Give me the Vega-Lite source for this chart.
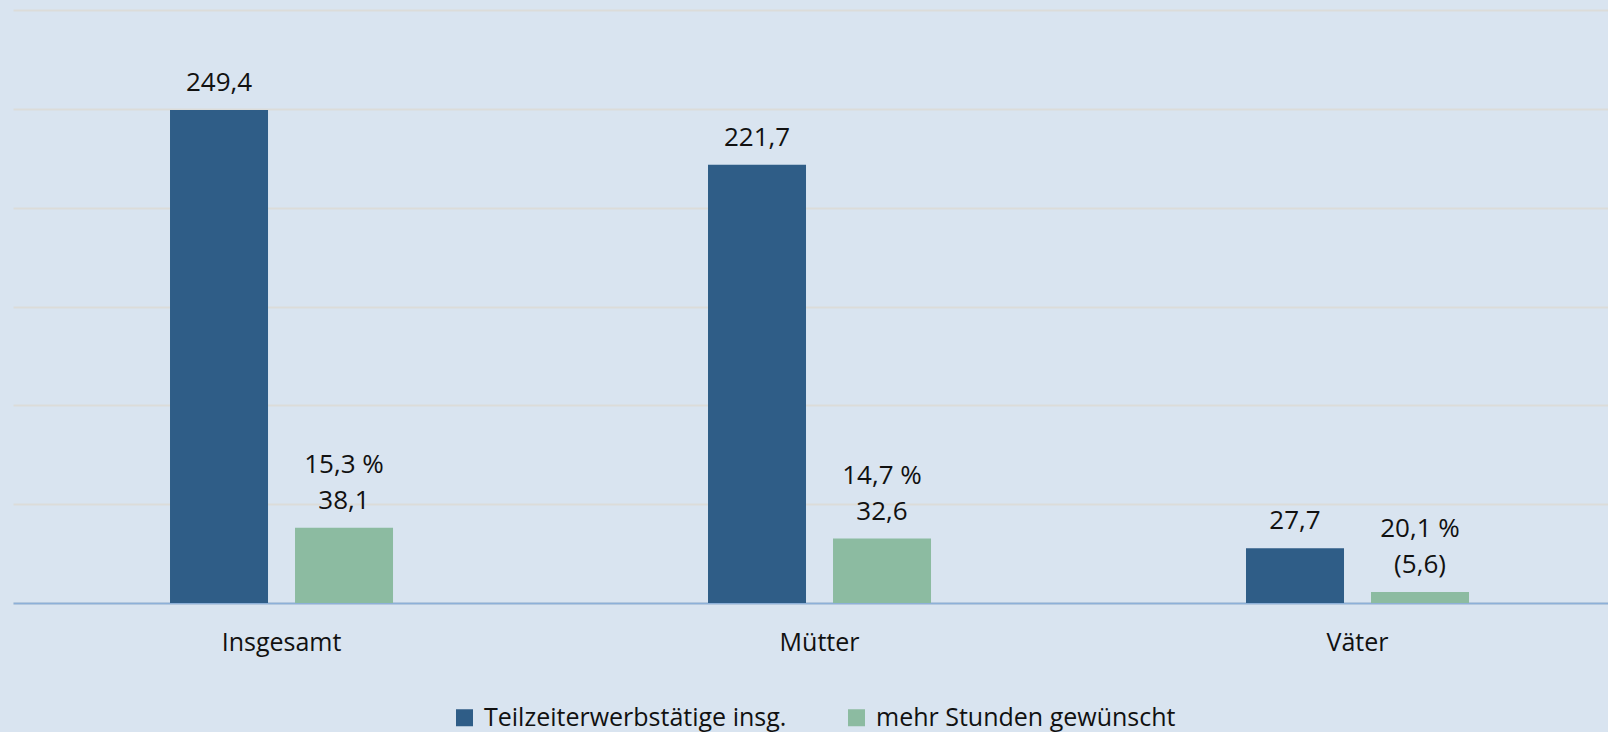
{
  "$schema": "https://vega.github.io/schema/vega-lite/v6.json",
  "width": 1595,
  "height": 593,
  "autosize": {"type": "none"},
  "padding": {"left": 13, "top": 10, "right": 0, "bottom": 129},
  "background": "#D9E4F0",
  "config": {
    "view": {"stroke": null},
    "font": "Open Sans"
  },
  "data": {
    "values": [
      {"Gruppe": "Insgesamt", "Serie": "Teilzeiterwerbstätige insg.", "Wert": 249.4, "Label": "249,4", "Anteil": null},
      {"Gruppe": "Insgesamt", "Serie": "mehr Stunden gewünscht", "Wert": 38.1, "Label": "38,1", "Anteil": "15,3 %"},
      {"Gruppe": "Mütter", "Serie": "Teilzeiterwerbstätige insg.", "Wert": 221.7, "Label": "221,7", "Anteil": null},
      {"Gruppe": "Mütter", "Serie": "mehr Stunden gewünscht", "Wert": 32.6, "Label": "32,6", "Anteil": "14,7 %"},
      {"Gruppe": "Väter", "Serie": "Teilzeiterwerbstätige insg.", "Wert": 27.7, "Label": "27,7", "Anteil": null},
      {"Gruppe": "Väter", "Serie": "mehr Stunden gewünscht", "Wert": 5.6, "Label": "(5,6)", "Anteil": "20,1 %"}
    ]
  },
  "encoding": {
    "x": {
      "field": "Gruppe",
      "type": "nominal",
      "sort": ["Insgesamt", "Mütter", "Väter"],
      "scale": {"paddingInner": 0.5353, "paddingOuter": 0.25, "align": 0.5335},
      "axis": {
        "title": null,
        "labelAngle": 0,
        "ticks": false,
        "domain": true,
        "domainColor": "#8DB0D8",
        "domainWidth": 2,
        "labelFont": "Open Sans",
        "labelFontSize": 25,
        "labelColor": "#111111",
        "labelBaseline": "alphabetic",
        "labelPadding": 47,
        "grid": false
      }
    },
    "xOffset": {
      "field": "Serie",
      "type": "nominal",
      "sort": ["Teilzeiterwerbstätige insg.", "mehr Stunden gewünscht"],
      "scale": {"paddingInner": 0.216, "paddingOuter": 0.108}
    },
    "y": {
      "field": "Wert",
      "type": "quantitative",
      "scale": {"domain": [0, 300], "nice": false},
      "axis": {
        "title": null,
        "labels": false,
        "ticks": false,
        "domain": false,
        "values": [0, 50, 100, 150, 200, 250, 300],
        "grid": true,
        "gridColor": "#DCDCD9",
        "gridWidth": 2
      }
    }
  },
  "layer": [
    {
      "mark": {"type": "bar"},
      "encoding": {
        "color": {
          "field": "Serie",
          "type": "nominal",
          "sort": ["Teilzeiterwerbstätige insg.", "mehr Stunden gewünscht"],
          "scale": {"domain": ["Teilzeiterwerbstätige insg.", "mehr Stunden gewünscht"], "range": ["#2F5D87", "#8CBBA1"]},
          "legend": {
            "title": null,
            "orient": "none",
            "direction": "horizontal",
            "legendX": 439,
            "legendY": 695,
            "symbolType": "square",
            "symbolSize": 289,
            "symbolStrokeWidth": 0,
            "labelFont": "Open Sans",
            "labelFontSize": 25,
            "labelColor": "#111111",
            "labelOffset": 7,
            "columnPadding": 57,
            "labelLimit": 500
          }
        }
      }
    },
    {
      "mark": {"type": "text", "baseline": "bottom", "dy": -14, "fontSize": 26, "color": "#111111", "font": "Open Sans"},
      "encoding": {
        "text": {"field": "Label"}
      }
    },
    {
      "transform": [{"filter": "datum.Anteil != null"}],
      "mark": {"type": "text", "baseline": "bottom", "dy": -50, "fontSize": 26, "color": "#111111", "font": "Open Sans"},
      "encoding": {
        "text": {"field": "Anteil"}
      }
    }
  ]
}
